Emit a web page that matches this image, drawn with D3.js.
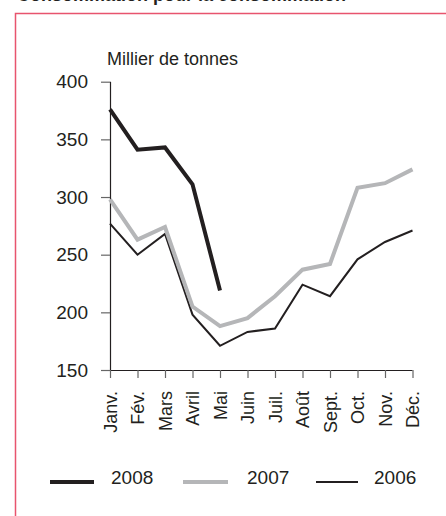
<!DOCTYPE html>
<html><head><meta charset="utf-8">
<script src="https://cdn.jsdelivr.net/npm/d3@7"></script>
<style>body{margin:0;background:#fff;}svg{display:block;font-family:"Liberation Sans",Arial,sans-serif;}</style>
</head><body>
<svg id="c" width="446" height="516"></svg>
<script>
const months = ["Janv.","Fév.","Mars","Avril","Mai","Juin","Juil.","Août","Sept.","Oct.","Nov.","Déc."];
const v2008 = [376, 341, 343, 311, 219];
const v2007 = [298, 263, 274, 205, 188, 195, 214, 237, 242, 308, 312, 324];
const v2006 = [277, 250, 268, 198, 171, 183, 186, 224, 214, 246, 261, 271];
const yTicks = [150, 200, 250, 300, 350, 400];
const seriesNames = ["2008", "2007", "2006"];

const svg = d3.select("#c");
// title (cropped at top, as in the reference)
svg.append("text").attr("x", 17).attr("y", 0.5).attr("font-size", 18).attr("font-weight", "bold")
  .attr("fill", "#231f20").text("Consommation pour la consommation");
// frame
svg.append("path").attr("d", "M15.5,600 V13.5 H460").attr("fill", "none").attr("stroke", "#e8546e").attr("stroke-width", 1.5);

const x = d3.scalePoint().domain(months).range([110, 412.5]);
const y = d3.scaleLinear().domain([150, 400]).range([370, 81.7]);

const gy = svg.append("g").attr("transform", "translate(110,0)")
  .call(d3.axisLeft(y).tickValues(yTicks).tickSize(9).tickPadding(13));
gy.select(".domain").attr("stroke", "#231f20").attr("stroke-width", 1.2).attr("d", `M0.5,${y(400)}V${y(150)}`);
gy.selectAll(".tick line").attr("stroke", "#666").attr("stroke-width", 1.2);
gy.selectAll(".tick text").attr("font-size", 19).attr("fill", "#231f20").attr("font-family", "Liberation Sans, Arial, sans-serif");

const gx = svg.append("g").attr("transform", "translate(0,370)")
  .call(d3.axisBottom(x).tickSize(8).tickSizeOuter(0));
gx.select(".domain").attr("stroke", "#231f20").attr("stroke-width", 1.2).attr("d", `M110,0.5H${x("Déc.")}`);
gx.selectAll(".tick line").attr("stroke", "#666").attr("stroke-width", 1.2);
gx.selectAll(".tick text").attr("font-size", 18).attr("fill", "#231f20")
  .attr("font-family", "Liberation Sans, Arial, sans-serif")
  .attr("transform", "rotate(-90)").attr("text-anchor", "end")
  .attr("x", -21).attr("y", 0).attr("dy", "0.35em");

svg.append("text").attr("x", 107).attr("y", 65).attr("font-size", 18).attr("fill", "#231f20").text("Millier de tonnes");

const line = d3.line().x((d, i) => x(months[i])).y(d => y(d));
const styles = {
  "2008": {data: v2008, color: "#231f20", w: 4},
  "2007": {data: v2007, color: "#b5b6b8", w: 4},
  "2006": {data: v2006, color: "#231f20", w: 2}
};
["2006", "2007", "2008"].forEach(k => {
  svg.append("path").datum(styles[k].data).attr("d", line).attr("fill", "none")
    .attr("stroke", styles[k].color).attr("stroke-width", styles[k].w).attr("stroke-linejoin", "miter");
});

// legend
const legX = [[50, 94, 111], [183, 228, 247], [316, 358, 374]];
seriesNames.forEach((k, i) => {
  const [x1, x2, tx] = legX[i];
  svg.append("line").attr("x1", x1).attr("x2", x2).attr("y1", 482).attr("y2", 482)
    .attr("stroke", styles[k].color).attr("stroke-width", styles[k].w);
  svg.append("text").attr("x", tx).attr("y", 484).attr("font-size", 19).attr("fill", "#231f20").text(k);
});
</script>
</body></html>
